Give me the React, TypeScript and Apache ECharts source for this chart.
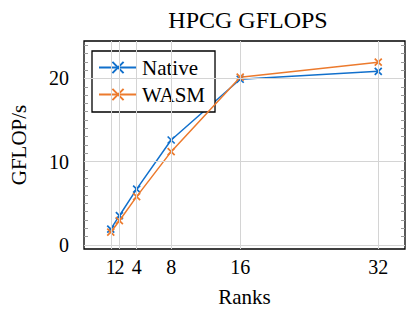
import React, { useEffect, useRef } from "react";
import * as echarts from "echarts";

const ranks = [1, 2, 4, 8, 16, 32];
const nativeValues = [1.88, 3.5, 6.7, 12.6, 19.9, 20.85];
const wasmValues = [1.52, 2.9, 5.8, 11.2, 20.15, 21.95];
const xTickLabels = [1, 2, 4, 8, 16, 32];
const yTickLabels = [0, 10, 20];
const yMinorTicks = Array.from({ length: 25 }, (_, i) => i);

const BLUE = "#1170cc";
const ORANGE = "#ec7a2d";
const FONT = "'Liberation Serif', 'DejaVu Serif', serif";
const CROSS = "path://M0,0L10,10M10,0L0,10";

export default function App() {
  const ref = useRef<HTMLDivElement>(null);
  useEffect(() => {
    if (!ref.current) return;
    const chart = echarts.init(ref.current, undefined, { renderer: "svg" });
    const pair = (vals: number[]) => ranks.map((r, i) => [r, vals[i]]);
    const tickCfg = {
      show: true,
      inside: true,
      length: 4,
      customValues: yMinorTicks,
      lineStyle: { color: "#999", width: 1 },
    };
    const xLabelBase = {
      margin: 8,
      fontFamily: FONT,
      fontSize: 20,
      color: "#000",
      hideOverlap: false,
      showMinLabel: true,
      showMaxLabel: true,
    };
    chart.setOption({
      animation: false,
      backgroundColor: "#ffffff",
      title: {
        text: "HPCG GFLOPS",
        left: 243,
        textAlign: "center",
        top: 3,
        textStyle: { fontFamily: FONT, fontSize: 24, fontWeight: "normal", color: "#000" },
      },
      grid: {
        left: 82,
        right: 2,
        top: 41,
        bottom: 64,
        show: true,
        borderColor: "#000",
        borderWidth: 1.3,
        backgroundColor: "transparent",
      },
      legend: {
        orient: "vertical",
        left: 92,
        top: 51,
        data: ["Native", "WASM"],
        backgroundColor: "#fff",
        borderColor: "#000",
        borderWidth: 1.3,
        borderRadius: 0,
        padding: [6, 10, 7, 6],
        itemGap: 6,
        itemWidth: 38,
        itemHeight: 14,
        textStyle: { fontFamily: FONT, fontSize: 21, color: "#000", lineHeight: 20 },
      },
      xAxis: [
        {
          type: "value",
          min: -2.1,
          max: 35.1,
          name: "Ranks",
          nameLocation: "middle",
          nameGap: 37,
          nameTextStyle: { fontFamily: FONT, fontSize: 21, color: "#000" },
          axisLine: { show: false, onZero: false },
          splitLine: { show: false },
          axisTick: { show: false },
          axisLabel: { ...xLabelBase, customValues: xTickLabels.slice(1) },
        },
        {
          type: "value",
          position: "bottom",
          min: -2.1,
          max: 35.1,
          axisLine: { show: false, onZero: false },
          splitLine: { show: false },
          axisTick: { show: false },
          axisLabel: { ...xLabelBase, customValues: xTickLabels.slice(0, 1) },
        },
      ],
      yAxis: [
        {
          type: "value",
          min: -0.5,
          max: 24.5,
          name: "GFLOP/s",
          nameLocation: "middle",
          nameGap: 55,
          nameTextStyle: { fontFamily: FONT, fontSize: 21, color: "#000" },
          axisLine: { show: false, onZero: false },
          splitLine: { show: false },
          axisTick: tickCfg,
          axisLabel: {
            customValues: yTickLabels,
            margin: 15,
            fontFamily: FONT,
            fontSize: 20,
            color: "#000",
          },
        },
        {
          type: "value",
          position: "right",
          min: -0.5,
          max: 24.5,
          axisLine: { show: false, onZero: false },
          splitLine: { show: false },
          axisTick: tickCfg,
          axisLabel: { show: false },
        },
      ],
      series: [
        {
          type: "line",
          name: "grid",
          data: [],
          z: 1,
          silent: true,
          markLine: {
            silent: true,
            symbol: "none",
            label: { show: false },
            lineStyle: { color: "#d4d4d4", width: 1, type: "solid" },
            data: [
              ...xTickLabels.map((v) => ({ xAxis: v })),
              ...yTickLabels.map((v) => ({ yAxis: v })),
            ],
          },
        },
        {
          type: "line",
          name: "Native",
          data: pair(nativeValues),
          z: 3,
          symbol: CROSS,
          symbolSize: 7,
          color: BLUE,
          lineStyle: { color: BLUE, width: 1.5 },
          itemStyle: { color: BLUE, borderColor: BLUE, borderWidth: 1.7 },
        },
        {
          type: "line",
          name: "WASM",
          data: pair(wasmValues),
          z: 4,
          symbol: CROSS,
          symbolSize: 7,
          color: ORANGE,
          lineStyle: { color: ORANGE, width: 1.5 },
          itemStyle: { color: ORANGE, borderColor: ORANGE, borderWidth: 1.7 },
        },
      ],
    });
    return () => chart.dispose();
  }, []);
  return (
    <div
      ref={ref}
      style={{ position: "absolute", left: 0, top: 0, width: 407, height: 313 }}
    />
  );
}
